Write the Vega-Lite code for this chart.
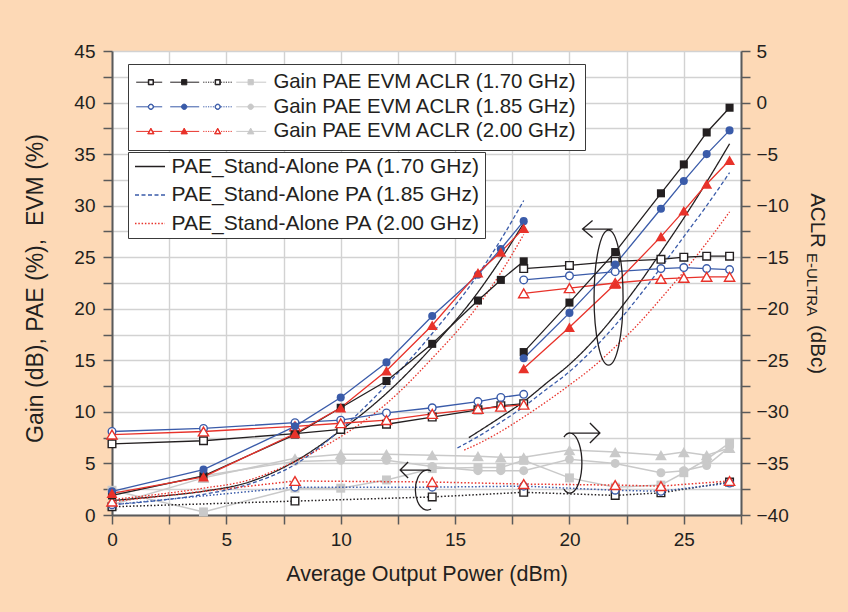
{
  "$schema": "https://vega.github.io/schema/vega-lite/v6.json",
  "width": 629,
  "height": 464,
  "autosize": "none",
  "padding": {"left": 112, "top": 51, "right": 107, "bottom": 97},
  "background": "#fdd9b6",
  "config": {
    "font": "Liberation Sans",
    "view": {"stroke": null, "fill": "white"},
    "axis": {
      "labelFont": "Liberation Sans", "labelFontSize": 19, "labelColor": "#231f20",
      "titleFont": "Liberation Sans", "titleFontSize": 21.5, "titleFontWeight": "normal", "titleColor": "#231f20",
      "domainColor": "#5a5a5a", "domainWidth": 2, "tickColor": "#5a5a5a", "tickWidth": 1.5, "tickSize": 9,
      "gridColor": "#d2d2d2", "gridWidth": 1.4, "labelFlush": false, "labelOverlap": false
    },
    "legend": {"labelFont": "Liberation Sans", "labelFontSize": 20, "labelColor": "#231f20", "labelLimit": 500}
  },
  "datasets": {
    "pts": [
      {"p": 0, "f": "1.70 GHz", "m": "Gain", "br": "a", "v": 6.9},
      {"p": 4, "f": "1.70 GHz", "m": "Gain", "br": "a", "v": 7.2},
      {"p": 8, "f": "1.70 GHz", "m": "Gain", "br": "a", "v": 7.9},
      {"p": 10, "f": "1.70 GHz", "m": "Gain", "br": "a", "v": 8.3},
      {"p": 12, "f": "1.70 GHz", "m": "Gain", "br": "a", "v": 8.8},
      {"p": 14, "f": "1.70 GHz", "m": "Gain", "br": "a", "v": 9.5},
      {"p": 16, "f": "1.70 GHz", "m": "Gain", "br": "a", "v": 10.2},
      {"p": 17, "f": "1.70 GHz", "m": "Gain", "br": "a", "v": 10.6},
      {"p": 18, "f": "1.70 GHz", "m": "Gain", "br": "a", "v": 10.8},
      {"p": 18, "f": "1.70 GHz", "m": "Gain", "br": "b", "v": 23.9},
      {"p": 20, "f": "1.70 GHz", "m": "Gain", "br": "b", "v": 24.2},
      {"p": 22, "f": "1.70 GHz", "m": "Gain", "br": "b", "v": 24.6},
      {"p": 24, "f": "1.70 GHz", "m": "Gain", "br": "b", "v": 24.8},
      {"p": 25, "f": "1.70 GHz", "m": "Gain", "br": "b", "v": 25.0},
      {"p": 26, "f": "1.70 GHz", "m": "Gain", "br": "b", "v": 25.1},
      {"p": 27, "f": "1.70 GHz", "m": "Gain", "br": "b", "v": 25.1},
      {"p": 0, "f": "1.85 GHz", "m": "Gain", "br": "a", "v": 8.1},
      {"p": 4, "f": "1.85 GHz", "m": "Gain", "br": "a", "v": 8.4},
      {"p": 8, "f": "1.85 GHz", "m": "Gain", "br": "a", "v": 8.95},
      {"p": 10, "f": "1.85 GHz", "m": "Gain", "br": "a", "v": 9.2},
      {"p": 12, "f": "1.85 GHz", "m": "Gain", "br": "a", "v": 9.9},
      {"p": 14, "f": "1.85 GHz", "m": "Gain", "br": "a", "v": 10.4},
      {"p": 16, "f": "1.85 GHz", "m": "Gain", "br": "a", "v": 11.0},
      {"p": 17, "f": "1.85 GHz", "m": "Gain", "br": "a", "v": 11.4},
      {"p": 18, "f": "1.85 GHz", "m": "Gain", "br": "a", "v": 11.7},
      {"p": 18, "f": "1.85 GHz", "m": "Gain", "br": "b", "v": 22.8},
      {"p": 20, "f": "1.85 GHz", "m": "Gain", "br": "b", "v": 23.2},
      {"p": 22, "f": "1.85 GHz", "m": "Gain", "br": "b", "v": 23.6},
      {"p": 24, "f": "1.85 GHz", "m": "Gain", "br": "b", "v": 23.9},
      {"p": 25, "f": "1.85 GHz", "m": "Gain", "br": "b", "v": 24.0},
      {"p": 26, "f": "1.85 GHz", "m": "Gain", "br": "b", "v": 23.9},
      {"p": 27, "f": "1.85 GHz", "m": "Gain", "br": "b", "v": 23.8},
      {"p": 0, "f": "2.00 GHz", "m": "Gain", "br": "a", "v": 7.8},
      {"p": 4, "f": "2.00 GHz", "m": "Gain", "br": "a", "v": 8.1},
      {"p": 8, "f": "2.00 GHz", "m": "Gain", "br": "a", "v": 8.6},
      {"p": 10, "f": "2.00 GHz", "m": "Gain", "br": "a", "v": 8.9},
      {"p": 12, "f": "2.00 GHz", "m": "Gain", "br": "a", "v": 9.2},
      {"p": 14, "f": "2.00 GHz", "m": "Gain", "br": "a", "v": 9.8},
      {"p": 16, "f": "2.00 GHz", "m": "Gain", "br": "a", "v": 10.3},
      {"p": 17, "f": "2.00 GHz", "m": "Gain", "br": "a", "v": 10.5},
      {"p": 18, "f": "2.00 GHz", "m": "Gain", "br": "a", "v": 10.7},
      {"p": 18, "f": "2.00 GHz", "m": "Gain", "br": "b", "v": 21.5},
      {"p": 20, "f": "2.00 GHz", "m": "Gain", "br": "b", "v": 22.0},
      {"p": 22, "f": "2.00 GHz", "m": "Gain", "br": "b", "v": 22.5},
      {"p": 24, "f": "2.00 GHz", "m": "Gain", "br": "b", "v": 22.9},
      {"p": 25, "f": "2.00 GHz", "m": "Gain", "br": "b", "v": 23.0},
      {"p": 26, "f": "2.00 GHz", "m": "Gain", "br": "b", "v": 23.1},
      {"p": 27, "f": "2.00 GHz", "m": "Gain", "br": "b", "v": 23.1},

      {"p": 0, "f": "1.70 GHz", "m": "PAE", "br": "a", "v": 1.9},
      {"p": 4, "f": "1.70 GHz", "m": "PAE", "br": "a", "v": 3.8},
      {"p": 8, "f": "1.70 GHz", "m": "PAE", "br": "a", "v": 7.8},
      {"p": 10, "f": "1.70 GHz", "m": "PAE", "br": "a", "v": 10.4},
      {"p": 12, "f": "1.70 GHz", "m": "PAE", "br": "a", "v": 13.0},
      {"p": 14, "f": "1.70 GHz", "m": "PAE", "br": "a", "v": 16.6},
      {"p": 16, "f": "1.70 GHz", "m": "PAE", "br": "a", "v": 20.8},
      {"p": 17, "f": "1.70 GHz", "m": "PAE", "br": "a", "v": 22.8},
      {"p": 18, "f": "1.70 GHz", "m": "PAE", "br": "a", "v": 24.6},
      {"p": 18, "f": "1.70 GHz", "m": "PAE", "br": "b", "v": 15.8},
      {"p": 20, "f": "1.70 GHz", "m": "PAE", "br": "b", "v": 20.6},
      {"p": 22, "f": "1.70 GHz", "m": "PAE", "br": "b", "v": 25.5},
      {"p": 24, "f": "1.70 GHz", "m": "PAE", "br": "b", "v": 31.2},
      {"p": 25, "f": "1.70 GHz", "m": "PAE", "br": "b", "v": 34.0},
      {"p": 26, "f": "1.70 GHz", "m": "PAE", "br": "b", "v": 37.1},
      {"p": 27, "f": "1.70 GHz", "m": "PAE", "br": "b", "v": 39.5},
      {"p": 0, "f": "1.85 GHz", "m": "PAE", "br": "a", "v": 2.3},
      {"p": 4, "f": "1.85 GHz", "m": "PAE", "br": "a", "v": 4.4},
      {"p": 8, "f": "1.85 GHz", "m": "PAE", "br": "a", "v": 8.6},
      {"p": 10, "f": "1.85 GHz", "m": "PAE", "br": "a", "v": 11.4},
      {"p": 12, "f": "1.85 GHz", "m": "PAE", "br": "a", "v": 14.8},
      {"p": 14, "f": "1.85 GHz", "m": "PAE", "br": "a", "v": 19.3},
      {"p": 16, "f": "1.85 GHz", "m": "PAE", "br": "a", "v": 23.3},
      {"p": 17, "f": "1.85 GHz", "m": "PAE", "br": "a", "v": 25.8},
      {"p": 18, "f": "1.85 GHz", "m": "PAE", "br": "a", "v": 28.5},
      {"p": 18, "f": "1.85 GHz", "m": "PAE", "br": "b", "v": 15.2},
      {"p": 20, "f": "1.85 GHz", "m": "PAE", "br": "b", "v": 19.6},
      {"p": 22, "f": "1.85 GHz", "m": "PAE", "br": "b", "v": 24.3},
      {"p": 24, "f": "1.85 GHz", "m": "PAE", "br": "b", "v": 29.7},
      {"p": 25, "f": "1.85 GHz", "m": "PAE", "br": "b", "v": 32.4},
      {"p": 26, "f": "1.85 GHz", "m": "PAE", "br": "b", "v": 35.0},
      {"p": 27, "f": "1.85 GHz", "m": "PAE", "br": "b", "v": 37.3},
      {"p": 0, "f": "2.00 GHz", "m": "PAE", "br": "a", "v": 2.1},
      {"p": 4, "f": "2.00 GHz", "m": "PAE", "br": "a", "v": 3.7},
      {"p": 8, "f": "2.00 GHz", "m": "PAE", "br": "a", "v": 7.9},
      {"p": 10, "f": "2.00 GHz", "m": "PAE", "br": "a", "v": 10.4},
      {"p": 12, "f": "2.00 GHz", "m": "PAE", "br": "a", "v": 14.0},
      {"p": 14, "f": "2.00 GHz", "m": "PAE", "br": "a", "v": 18.4},
      {"p": 16, "f": "2.00 GHz", "m": "PAE", "br": "a", "v": 23.5},
      {"p": 17, "f": "2.00 GHz", "m": "PAE", "br": "a", "v": 25.5},
      {"p": 18, "f": "2.00 GHz", "m": "PAE", "br": "a", "v": 27.8},
      {"p": 18, "f": "2.00 GHz", "m": "PAE", "br": "b", "v": 14.2},
      {"p": 20, "f": "2.00 GHz", "m": "PAE", "br": "b", "v": 18.2},
      {"p": 22, "f": "2.00 GHz", "m": "PAE", "br": "b", "v": 22.4},
      {"p": 24, "f": "2.00 GHz", "m": "PAE", "br": "b", "v": 27.0},
      {"p": 25, "f": "2.00 GHz", "m": "PAE", "br": "b", "v": 29.5},
      {"p": 26, "f": "2.00 GHz", "m": "PAE", "br": "b", "v": 32.1},
      {"p": 27, "f": "2.00 GHz", "m": "PAE", "br": "b", "v": 34.4},

      {"p": 0, "f": "1.70 GHz", "m": "EVM", "br": "a", "v": 0.8},
      {"p": 8, "f": "1.70 GHz", "m": "EVM", "br": "a", "v": 1.35},
      {"p": 14, "f": "1.70 GHz", "m": "EVM", "br": "a", "v": 1.75},
      {"p": 18, "f": "1.70 GHz", "m": "EVM", "br": "a", "v": 2.2},
      {"p": 22, "f": "1.70 GHz", "m": "EVM", "br": "a", "v": 1.9},
      {"p": 24, "f": "1.70 GHz", "m": "EVM", "br": "a", "v": 2.15},
      {"p": 27, "f": "1.70 GHz", "m": "EVM", "br": "a", "v": 3.2},
      {"p": 0, "f": "1.85 GHz", "m": "EVM", "br": "a", "v": 1.0},
      {"p": 8, "f": "1.85 GHz", "m": "EVM", "br": "a", "v": 2.7},
      {"p": 14, "f": "1.85 GHz", "m": "EVM", "br": "a", "v": 2.7},
      {"p": 18, "f": "1.85 GHz", "m": "EVM", "br": "a", "v": 2.8},
      {"p": 22, "f": "1.85 GHz", "m": "EVM", "br": "a", "v": 2.4},
      {"p": 24, "f": "1.85 GHz", "m": "EVM", "br": "a", "v": 2.3},
      {"p": 27, "f": "1.85 GHz", "m": "EVM", "br": "a", "v": 3.1},
      {"p": 0, "f": "2.00 GHz", "m": "EVM", "br": "a", "v": 1.3},
      {"p": 8, "f": "2.00 GHz", "m": "EVM", "br": "a", "v": 3.3},
      {"p": 14, "f": "2.00 GHz", "m": "EVM", "br": "a", "v": 3.2},
      {"p": 18, "f": "2.00 GHz", "m": "EVM", "br": "a", "v": 3.0},
      {"p": 22, "f": "2.00 GHz", "m": "EVM", "br": "a", "v": 2.9},
      {"p": 24, "f": "2.00 GHz", "m": "EVM", "br": "a", "v": 2.8},
      {"p": 27, "f": "2.00 GHz", "m": "EVM", "br": "a", "v": 3.3}
    ],
    "aclr": [
      {"p": 0, "f": "1.70 GHz", "dbc": -37.6}, {"p": 4, "f": "1.70 GHz", "dbc": -39.7},
      {"p": 8, "f": "1.70 GHz", "dbc": -37.4}, {"p": 10, "f": "1.70 GHz", "dbc": -37.4},
      {"p": 12, "f": "1.70 GHz", "dbc": -36.6}, {"p": 14, "f": "1.70 GHz", "dbc": -35.5},
      {"p": 16, "f": "1.70 GHz", "dbc": -35.4}, {"p": 17, "f": "1.70 GHz", "dbc": -35.4},
      {"p": 18, "f": "1.70 GHz", "dbc": -34.7}, {"p": 20, "f": "1.70 GHz", "dbc": -36.4},
      {"p": 22, "f": "1.70 GHz", "dbc": -37.3}, {"p": 24, "f": "1.70 GHz", "dbc": -37.1},
      {"p": 25, "f": "1.70 GHz", "dbc": -35.9}, {"p": 26, "f": "1.70 GHz", "dbc": -34.6},
      {"p": 27, "f": "1.70 GHz", "dbc": -33.0},
      {"p": 0, "f": "1.85 GHz", "dbc": -38.1}, {"p": 4, "f": "1.85 GHz", "dbc": -36.2},
      {"p": 8, "f": "1.85 GHz", "dbc": -34.8}, {"p": 10, "f": "1.85 GHz", "dbc": -34.7},
      {"p": 12, "f": "1.85 GHz", "dbc": -34.7}, {"p": 14, "f": "1.85 GHz", "dbc": -35.3},
      {"p": 16, "f": "1.85 GHz", "dbc": -35.7}, {"p": 17, "f": "1.85 GHz", "dbc": -35.7},
      {"p": 18, "f": "1.85 GHz", "dbc": -35.7}, {"p": 20, "f": "1.85 GHz", "dbc": -34.6},
      {"p": 22, "f": "1.85 GHz", "dbc": -35.0}, {"p": 24, "f": "1.85 GHz", "dbc": -35.9},
      {"p": 25, "f": "1.85 GHz", "dbc": -35.7}, {"p": 26, "f": "1.85 GHz", "dbc": -35.2},
      {"p": 27, "f": "1.85 GHz", "dbc": -33.4},
      {"p": 0, "f": "2.00 GHz", "dbc": -39.0}, {"p": 4, "f": "2.00 GHz", "dbc": -36.4},
      {"p": 8, "f": "2.00 GHz", "dbc": -34.5}, {"p": 10, "f": "2.00 GHz", "dbc": -34.1},
      {"p": 12, "f": "2.00 GHz", "dbc": -34.1}, {"p": 14, "f": "2.00 GHz", "dbc": -34.2},
      {"p": 16, "f": "2.00 GHz", "dbc": -34.3}, {"p": 17, "f": "2.00 GHz", "dbc": -34.4},
      {"p": 18, "f": "2.00 GHz", "dbc": -34.4}, {"p": 20, "f": "2.00 GHz", "dbc": -33.7},
      {"p": 22, "f": "2.00 GHz", "dbc": -33.9}, {"p": 24, "f": "2.00 GHz", "dbc": -34.2},
      {"p": 25, "f": "2.00 GHz", "dbc": -33.9}, {"p": 26, "f": "2.00 GHz", "dbc": -34.2},
      {"p": 27, "f": "2.00 GHz", "dbc": -33.5}
    ],
    "sa": [
      {"p": 0, "f": "1.70 GHz", "br": "a", "v": 1.4}, {"p": 2, "f": "1.70 GHz", "br": "a", "v": 1.8},
      {"p": 4, "f": "1.70 GHz", "br": "a", "v": 2.3}, {"p": 6, "f": "1.70 GHz", "br": "a", "v": 3.2},
      {"p": 8, "f": "1.70 GHz", "br": "a", "v": 5.2}, {"p": 10, "f": "1.70 GHz", "br": "a", "v": 8.2},
      {"p": 12, "f": "1.70 GHz", "br": "a", "v": 11.8}, {"p": 14, "f": "1.70 GHz", "br": "a", "v": 16.3},
      {"p": 16, "f": "1.70 GHz", "br": "a", "v": 21.6}, {"p": 17, "f": "1.70 GHz", "br": "a", "v": 24.8},
      {"p": 18, "f": "1.70 GHz", "br": "a", "v": 28.3},
      {"p": 0, "f": "1.85 GHz", "br": "a", "v": 1.0}, {"p": 2, "f": "1.85 GHz", "br": "a", "v": 1.4},
      {"p": 4, "f": "1.85 GHz", "br": "a", "v": 2.0}, {"p": 6, "f": "1.85 GHz", "br": "a", "v": 3.0},
      {"p": 8, "f": "1.85 GHz", "br": "a", "v": 4.9}, {"p": 10, "f": "1.85 GHz", "br": "a", "v": 8.3},
      {"p": 12, "f": "1.85 GHz", "br": "a", "v": 12.6}, {"p": 14, "f": "1.85 GHz", "br": "a", "v": 17.6},
      {"p": 16, "f": "1.85 GHz", "br": "a", "v": 23.3}, {"p": 17, "f": "1.85 GHz", "br": "a", "v": 26.7},
      {"p": 18, "f": "1.85 GHz", "br": "a", "v": 30.5},
      {"p": 0, "f": "2.00 GHz", "br": "a", "v": 1.5}, {"p": 2, "f": "2.00 GHz", "br": "a", "v": 2.0},
      {"p": 4, "f": "2.00 GHz", "br": "a", "v": 2.6}, {"p": 6, "f": "2.00 GHz", "br": "a", "v": 3.4},
      {"p": 8, "f": "2.00 GHz", "br": "a", "v": 5.2}, {"p": 10, "f": "2.00 GHz", "br": "a", "v": 7.6},
      {"p": 12, "f": "2.00 GHz", "br": "a", "v": 10.8}, {"p": 14, "f": "2.00 GHz", "br": "a", "v": 15.2},
      {"p": 16, "f": "2.00 GHz", "br": "a", "v": 20.3}, {"p": 17, "f": "2.00 GHz", "br": "a", "v": 23.5},
      {"p": 18, "f": "2.00 GHz", "br": "a", "v": 27.2},
      {"p": 15.6, "f": "1.70 GHz", "br": "b", "v": 7.5}, {"p": 17, "f": "1.70 GHz", "br": "b", "v": 9.5},
      {"p": 18, "f": "1.70 GHz", "br": "b", "v": 11.0}, {"p": 19, "f": "1.70 GHz", "br": "b", "v": 12.8},
      {"p": 20, "f": "1.70 GHz", "br": "b", "v": 14.6}, {"p": 21, "f": "1.70 GHz", "br": "b", "v": 16.8},
      {"p": 22, "f": "1.70 GHz", "br": "b", "v": 19.4}, {"p": 23, "f": "1.70 GHz", "br": "b", "v": 22.3},
      {"p": 24, "f": "1.70 GHz", "br": "b", "v": 25.5}, {"p": 25, "f": "1.70 GHz", "br": "b", "v": 28.8},
      {"p": 26, "f": "1.70 GHz", "br": "b", "v": 32.3}, {"p": 27, "f": "1.70 GHz", "br": "b", "v": 36.0},
      {"p": 15.1, "f": "1.85 GHz", "br": "b", "v": 6.5}, {"p": 16, "f": "1.85 GHz", "br": "b", "v": 7.6},
      {"p": 17, "f": "1.85 GHz", "br": "b", "v": 9.0}, {"p": 18, "f": "1.85 GHz", "br": "b", "v": 10.5},
      {"p": 19, "f": "1.85 GHz", "br": "b", "v": 12.2}, {"p": 20, "f": "1.85 GHz", "br": "b", "v": 13.9},
      {"p": 21, "f": "1.85 GHz", "br": "b", "v": 16.0}, {"p": 22, "f": "1.85 GHz", "br": "b", "v": 18.4},
      {"p": 23, "f": "1.85 GHz", "br": "b", "v": 21.1}, {"p": 24, "f": "1.85 GHz", "br": "b", "v": 24.0},
      {"p": 25, "f": "1.85 GHz", "br": "b", "v": 27.0}, {"p": 26, "f": "1.85 GHz", "br": "b", "v": 30.0},
      {"p": 27, "f": "1.85 GHz", "br": "b", "v": 33.2},
      {"p": 15.4, "f": "2.00 GHz", "br": "b", "v": 6.3}, {"p": 16, "f": "2.00 GHz", "br": "b", "v": 6.9},
      {"p": 17, "f": "2.00 GHz", "br": "b", "v": 8.1}, {"p": 18, "f": "2.00 GHz", "br": "b", "v": 9.5},
      {"p": 19, "f": "2.00 GHz", "br": "b", "v": 11.0}, {"p": 20, "f": "2.00 GHz", "br": "b", "v": 12.6},
      {"p": 21, "f": "2.00 GHz", "br": "b", "v": 14.3}, {"p": 22, "f": "2.00 GHz", "br": "b", "v": 16.3},
      {"p": 23, "f": "2.00 GHz", "br": "b", "v": 18.5}, {"p": 24, "f": "2.00 GHz", "br": "b", "v": 21.0},
      {"p": 25, "f": "2.00 GHz", "br": "b", "v": 23.6}, {"p": 26, "f": "2.00 GHz", "br": "b", "v": 26.4},
      {"p": 27, "f": "2.00 GHz", "br": "b", "v": 29.4}
    ],
    "notes": [
      {"id": "left-axis loop", "p": 21.71, "v": 21.09},
      {"id": "left-axis bracket", "p": 13.82, "v": 2.42},
      {"id": "right-axis bracket", "p": 20.02, "v": 5.04}
    ]
  },
  "encoding": {
    "x": {
      "field": "p", "type": "quantitative",
      "scale": {"domain": [0, 27.5], "nice": false},
      "axis": {
        "values": [0, 2.5, 5, 7.5, 10, 12.5, 15, 17.5, 20, 22.5, 25, 27.5],
        "labelExpr": "datum.value % 5 === 0 ? datum.label : ''",
        "title": "Average Output Power (dBm)", "titleY": 65, "titleBaseline": "alphabetic",
        "labelPadding": 6, "grid": true,
        "encode": {"ticks": {"y2": {"condition": {"test": "datum.value % 5 !== 0", "value": 5}, "value": 9}}}
      }
    }
  },
  "layer": [
    {
      "data": {"name": "aclr"},
      "encoding": {
        "y": {
          "field": "dbc", "type": "quantitative",
          "scale": {"domain": [-40, 5], "nice": false},
          "axis": {
            "orient": "right",
            "values": [-40, -37.5, -35, -32.5, -30, -27.5, -25, -22.5, -20, -17.5, -15, -12.5, -10, -7.5, -5, -2.5, 0, 2.5, 5],
            "labelExpr": "datum.value % 5 === 0 ? datum.label : ''",
            "title": "ACLR", "titleFontSize": 20.5, "titleAngle": 90, "titleX": 69, "titleY": 169,
            "titleAlign": "center", "titleBaseline": "alphabetic",
            "labelPadding": 6, "grid": false,
            "encode": {"ticks": {"x2": {"condition": {"test": "datum.value % 5 !== 0", "value": 5}, "value": 9}}}
          }
        }
      },
      "layer": [
        {
          "mark": {"type": "line", "color": "#c9c9c9", "strokeWidth": 1.5},
          "encoding": {"detail": {"field": "f"}}
        },
        {
          "mark": {"type": "point", "filled": true, "color": "#c9c9c9", "opacity": 1},
          "encoding": {
            "shape": {"field": "f", "type": "nominal", "scale": {"domain": ["1.70 GHz", "1.85 GHz", "2.00 GHz"], "range": ["square", "circle", "triangle-up"]}, "legend": null},
            "size": {"condition": {"test": "datum.f === '2.00 GHz'", "value": 140}, "value": 80}
          }
        }
      ]
    },
    {
      "data": {"name": "aclr"},
      "mark": {"type": "point", "opacity": 0},
      "encoding": {
        "y": {
          "field": "dbc", "type": "quantitative",
          "scale": {"domain": [-40, 5], "nice": false},
          "axis": {
            "orient": "right", "title": "E-ULTRA", "titleFontSize": 15, "titleAngle": 90,
            "titleX": 65, "titleY": 233, "titleAlign": "center", "titleBaseline": "alphabetic",
            "labels": false, "ticks": false, "domain": false, "grid": false
          }
        }
      }
    },
    {
      "data": {"name": "aclr"},
      "mark": {"type": "point", "opacity": 0},
      "encoding": {
        "y": {
          "field": "dbc", "type": "quantitative",
          "scale": {"domain": [-40, 5], "nice": false},
          "axis": {
            "orient": "right", "title": "(dBc)", "titleFontSize": 20.5, "titleAngle": 90,
            "titleX": 69, "titleY": 298, "titleAlign": "center", "titleBaseline": "alphabetic",
            "labels": false, "ticks": false, "domain": false, "grid": false
          }
        }
      }
    },
    {
      "encoding": {
        "y": {
          "field": "v", "type": "quantitative",
          "scale": {"domain": [0, 45], "nice": false},
          "axis": {
            "orient": "left",
            "values": [0, 2.5, 5, 7.5, 10, 12.5, 15, 17.5, 20, 22.5, 25, 27.5, 30, 32.5, 35, 37.5, 40, 42.5, 45],
            "labelExpr": "datum.value % 5 === 0 ? datum.label : ''",
            "title": "Gain (dB), PAE (%),\u00a0 EVM (%)", "titleFontSize": 23, "titleAngle": -90, "titleX": -70, "titleY": 237,
            "titleAlign": "center", "titleBaseline": "alphabetic",
            "labelPadding": 8, "grid": true,
            "encode": {
              "ticks": {"x2": {"condition": {"test": "datum.value % 5 !== 0", "value": -5}, "value": -9}},
              "grid": {"strokeOpacity": {"condition": {"test": "datum.value % 5 !== 0", "value": 0}, "value": 1}}
            }
          }
        }
      },
      "layer": [
        {
          "data": {"name": "sa"},
          "mark": {"type": "line", "strokeWidth": 1.3, "interpolate": "monotone"},
          "encoding": {
            "color": {"field": "f", "type": "nominal", "scale": {"domain": ["1.70 GHz", "1.85 GHz", "2.00 GHz"], "range": ["#231f20", "#3a5ba9", "#e8322a"]}, "legend": null},
            "strokeDash": {"field": "f", "type": "nominal", "scale": {"domain": ["1.70 GHz", "1.85 GHz", "2.00 GHz"], "range": [[1, 0], [4, 2.5], [1.5, 1.8]]}, "legend": null},
            "detail": {"field": "br"}
          }
        },
        {
          "data": {"name": "pts"},
          "transform": [{"filter": {"field": "m", "oneOf": ["Gain", "PAE"]}}],
          "mark": {"type": "line", "strokeWidth": 1.3},
          "encoding": {
            "color": {"field": "f", "type": "nominal", "scale": {"domain": ["1.70 GHz", "1.85 GHz", "2.00 GHz"], "range": ["#231f20", "#3a5ba9", "#e8322a"]}, "legend": null},
            "detail": [{"field": "m"}, {"field": "br"}]
          }
        },
        {
          "data": {"name": "pts"},
          "transform": [{"filter": {"field": "m", "equal": "EVM"}}],
          "mark": {"type": "line", "strokeWidth": 1.5, "strokeDash": [1.5, 2]},
          "encoding": {
            "color": {"field": "f", "type": "nominal", "scale": {"domain": ["1.70 GHz", "1.85 GHz", "2.00 GHz"], "range": ["#231f20", "#3a5ba9", "#e8322a"]}, "legend": null}
          }
        },
        {
          "data": {"name": "pts"},
          "transform": [{"filter": {"field": "m", "oneOf": ["Gain", "EVM"]}}],
          "mark": {"type": "point", "filled": false, "fill": "white", "strokeWidth": 1.4, "opacity": 1},
          "encoding": {
            "color": {"field": "f", "type": "nominal", "scale": {"domain": ["1.70 GHz", "1.85 GHz", "2.00 GHz"], "range": ["#231f20", "#3a5ba9", "#e8322a"]}, "legend": null},
            "shape": {"field": "f", "type": "nominal", "scale": {"domain": ["1.70 GHz", "1.85 GHz", "2.00 GHz"], "range": ["square", "circle", "triangle-up"]}, "legend": null},
            "size": {"condition": {"test": "datum.f === '2.00 GHz'", "value": 105}, "value": 58}
          }
        },
        {
          "data": {"name": "pts"},
          "transform": [{"filter": {"field": "m", "equal": "PAE"}}],
          "mark": {"type": "point", "filled": true, "opacity": 1},
          "encoding": {
            "color": {"field": "f", "type": "nominal", "scale": {"domain": ["1.70 GHz", "1.85 GHz", "2.00 GHz"], "range": ["#231f20", "#3a5ba9", "#e8322a"]}, "legend": null},
            "shape": {"field": "f", "type": "nominal", "scale": {"domain": ["1.70 GHz", "1.85 GHz", "2.00 GHz"], "range": ["square", "circle", "triangle-up"]}, "legend": null},
            "size": {"condition": {"test": "datum.f === '2.00 GHz'", "value": 120}, "value": 65}
          }
        },
        {
          "data": {"name": "notes"},
          "transform": [{"filter": {"field": "id", "equal": "left-axis loop"}}],
          "mark": {"type": "point", "shape": "M0,-67.5A14.5,67.5 0 1,1 0,67.5A14.5,67.5 0 1,1 0,-67.5ZM4,-68.5H-26M-16,-77L-26,-68.5L-16,-60", "size": 4, "filled": false, "stroke": "#231f20", "strokeWidth": 1.3, "opacity": 1}
        },
        {
          "data": {"name": "notes"},
          "transform": [{"filter": {"field": "id", "equal": "left-axis bracket"}}],
          "mark": {"type": "point", "shape": "M3,-19A12,20 0 1,0 3,19M0,-20H-28M-20,-28L-28,-20L-20,-12", "size": 4, "filled": false, "stroke": "#231f20", "strokeWidth": 1.3, "opacity": 1}
        },
        {
          "data": {"name": "notes"},
          "transform": [{"filter": {"field": "id", "equal": "right-axis bracket"}}],
          "mark": {"type": "point", "shape": "M-6,-26A12,30 0 1,1 -6,26M0,-30H30M20,-40L30,-30L20,-20", "size": 4, "filled": false, "stroke": "#231f20", "strokeWidth": 1.3, "opacity": 1}
        }
      ]
    },
    {
      "data": {"name": "sa"},
      "mark": {"type": "line", "opacity": 0},
      "encoding": {
        "y": {"field": "v", "type": "quantitative", "scale": {"domain": [0, 45], "nice": false}, "axis": null},
        "color": {
          "field": "f", "type": "nominal",
          "scale": {"domain": ["1.70 GHz", "1.85 GHz", "2.00 GHz"], "range": ["#231f20", "#3a5ba9", "#e8322a"]},
          "legend": {
            "title": null, "orient": "none", "legendX": 16, "legendY": 101,
            "padding": 4, "rowPadding": 6.5, "symbolType": "M-15,0H15", "symbolSize": 4,
            "symbolOffset": 7.5, "labelOffset": 11, "symbolStrokeWidth": 1.4, "symbolOpacity": 1,
            "labelFontSize": 21,
            "fillColor": "white", "strokeColor": "#3a3a3a", "zindex": 1,
            "labelExpr": "'PAE_Stand-Alone PA (' + datum.label + ')'"
          }
        },
        "strokeDash": {
          "field": "f", "type": "nominal",
          "scale": {"domain": ["1.70 GHz", "1.85 GHz", "2.00 GHz"], "range": [[1, 0], [4, 2.5], [1.5, 1.8]]},
          "legend": {
            "title": null, "orient": "none", "legendX": 16, "legendY": 101,
            "padding": 4, "rowPadding": 6.5, "symbolType": "M-15,0H15", "symbolSize": 4,
            "symbolOffset": 7.5, "labelOffset": 11, "symbolStrokeWidth": 1.4, "symbolOpacity": 1,
            "labelFontSize": 21,
            "fillColor": "white", "strokeColor": "#3a3a3a", "zindex": 1,
            "labelExpr": "'PAE_Stand-Alone PA (' + datum.label + ')'"
          }
        },
        "detail": {"field": "br"}
      }
    },
    {
      "data": {"name": "pts"},
      "transform": [{"filter": {"field": "m", "equal": "Gain"}}],
      "mark": {"type": "point", "filled": true, "opacity": 0},
      "encoding": {
        "y": {"field": "v", "type": "quantitative", "scale": {"domain": [0, 45], "nice": false}, "axis": null},
        "shape": {
          "field": "f", "type": "nominal",
          "scale": {"domain": ["1.70 GHz", "1.85 GHz", "2.00 GHz"], "range": [
            "M-65,0H-52.9M-47.7,0H-39M-52.9,-2.6H-47.7V2.6H-52.9ZM-52.4,-2.1V2.1H-48.2V-2.1ZM-31,0H-2M-19.6,-2.6H-14.4V2.6H-19.6ZM2,0h1.2M4.4,0h1.2M6.8,0h1.2M9.2,0h1.2M11.6,0h1.2M13.9,-2.6H19.1V2.6H13.9ZM14.4,-2.1V2.1H18.6V-2.1ZM19.8,0h1.2M22.2,0h1.2M24.6,0h1.2M27,0h1.2M29.4,0h1.2",
            "M-65,0H-53M-47.6,0H-39M-53,0A2.7,2.7 0 1,1 -47.6,0A2.7,2.7 0 1,1 -53,0ZM-52.5,0A2.2,2.2 0 1,0 -48.1,0A2.2,2.2 0 1,0 -52.5,0ZM-31,0H-2M-19.7,0A2.7,2.7 0 1,1 -14.3,0A2.7,2.7 0 1,1 -19.7,0ZM2,0h1.2M4.4,0h1.2M6.8,0h1.2M9.2,0h1.2M11.6,0h1.2M13.8,0A2.7,2.7 0 1,1 19.2,0A2.7,2.7 0 1,1 13.8,0ZM14.3,0A2.2,2.2 0 1,0 18.7,0A2.2,2.2 0 1,0 14.3,0ZM19.8,0h1.2M22.2,0h1.2M24.6,0h1.2M27,0h1.2M29.4,0h1.2",
            "M-65,0H-52.1M-48.5,0H-39M-50.3,-3.3L-47.1,2.5L-53.5,2.5ZM-50.3,-2.2L-52.6,2L-48,2ZM-31,0H-2M-17,-3.3L-13.8,2.5L-20.2,2.5ZM2,0h1.2M4.4,0h1.2M6.8,0h1.2M9.2,0h1.2M11.6,0h1.2M16.5,-3.3L19.7,2.5L13.3,2.5ZM16.5,-2.2L14.2,2L18.8,2ZM19.8,0h1.2M22.2,0h1.2M24.6,0h1.2M27,0h1.2M29.4,0h1.2"
          ]},
          "legend": {
            "title": null, "orient": "none", "legendX": 16, "legendY": 13,
            "padding": 8, "rowPadding": 3.6, "symbolSize": 4, "symbolOffset": 55, "labelOffset": 62,
            "symbolStrokeWidth": 1, "symbolOpacity": 1, "labelFontSize": 20.4,
            "fillColor": "white", "strokeColor": "#3a3a3a", "zindex": 1,
            "labelExpr": "'Gain PAE EVM ACLR (' + datum.label + ')'"
          }
        },
        "color": {
          "field": "f", "type": "nominal",
          "scale": {"domain": ["1.70 GHz", "1.85 GHz", "2.00 GHz"], "range": ["#231f20", "#3a5ba9", "#e8322a"]},
          "legend": {
            "title": null, "orient": "none", "legendX": 16, "legendY": 13,
            "padding": 8, "rowPadding": 3.6, "symbolSize": 4, "symbolOffset": 55, "labelOffset": 62,
            "symbolStrokeWidth": 1, "symbolOpacity": 1, "labelFontSize": 20.4,
            "fillColor": "white", "strokeColor": "#3a3a3a", "zindex": 1,
            "labelExpr": "'Gain PAE EVM ACLR (' + datum.label + ')'"
          }
        },
        "stroke": {
          "field": "f", "type": "nominal",
          "scale": {"domain": ["1.70 GHz", "1.85 GHz", "2.00 GHz"], "range": ["#231f20", "#3a5ba9", "#e8322a"]},
          "legend": {
            "title": null, "orient": "none", "legendX": 16, "legendY": 13,
            "padding": 8, "rowPadding": 3.6, "symbolSize": 4, "symbolOffset": 55, "labelOffset": 62,
            "symbolStrokeWidth": 1, "symbolOpacity": 1, "labelFontSize": 20.4,
            "fillColor": "white", "strokeColor": "#3a3a3a", "zindex": 1,
            "labelExpr": "'Gain PAE EVM ACLR (' + datum.label + ')'"
          }
        }
      }
    },
    {
      "data": {"name": "aclr"},
      "mark": {"type": "point", "filled": true, "opacity": 0},
      "encoding": {
        "y": {"field": "dbc", "type": "quantitative", "scale": {"domain": [-40, 5], "nice": false}, "axis": null},
        "shape": {
          "field": "f", "type": "nominal",
          "scale": {"domain": ["1.70 GHz", "1.85 GHz", "2.00 GHz"], "range": [
            "M35,0H65M46.9,-2.6H52.1V2.6H46.9Z",
            "M35,0H65M46.8,0A2.7,2.7 0 1,1 52.2,0A2.7,2.7 0 1,1 46.8,0Z",
            "M35,0H65M49.5,-3.3L52.7,2.5L46.3,2.5Z"
          ]},
          "legend": {
            "title": null, "orient": "none", "legendX": 16, "legendY": 13,
            "padding": 8, "rowPadding": 3.6, "symbolSize": 4, "symbolOffset": 55, "labelOffset": 62,
            "symbolStrokeWidth": 1, "symbolOpacity": 1, "labelOpacity": 0, "labelFontSize": 20.4,
            "fillColor": "transparent", "strokeColor": "transparent", "zindex": 2,
            "labelExpr": "'Gain PAE EVM ACLR (' + datum.label + ')'"
          }
        },
        "color": {
          "field": "f", "type": "nominal",
          "scale": {"domain": ["1.70 GHz", "1.85 GHz", "2.00 GHz"], "range": ["#c9c9c9", "#c9c9c9", "#c9c9c9"]},
          "legend": {
            "title": null, "orient": "none", "legendX": 16, "legendY": 13,
            "padding": 8, "rowPadding": 3.6, "symbolSize": 4, "symbolOffset": 55, "labelOffset": 62,
            "symbolStrokeWidth": 1, "symbolOpacity": 1, "labelOpacity": 0, "labelFontSize": 20.4,
            "fillColor": "transparent", "strokeColor": "transparent", "zindex": 2,
            "labelExpr": "'Gain PAE EVM ACLR (' + datum.label + ')'"
          }
        },
        "stroke": {
          "field": "f", "type": "nominal",
          "scale": {"domain": ["1.70 GHz", "1.85 GHz", "2.00 GHz"], "range": ["#c9c9c9", "#c9c9c9", "#c9c9c9"]},
          "legend": {
            "title": null, "orient": "none", "legendX": 16, "legendY": 13,
            "padding": 8, "rowPadding": 3.6, "symbolSize": 4, "symbolOffset": 55, "labelOffset": 62,
            "symbolStrokeWidth": 1, "symbolOpacity": 1, "labelOpacity": 0, "labelFontSize": 20.4,
            "fillColor": "transparent", "strokeColor": "transparent", "zindex": 2,
            "labelExpr": "'Gain PAE EVM ACLR (' + datum.label + ')'"
          }
        }
      }
    }
  ],
  "resolve": {"scale": {"y": "independent", "shape": "independent", "color": "independent", "stroke": "independent", "strokeDash": "independent"}}
}
